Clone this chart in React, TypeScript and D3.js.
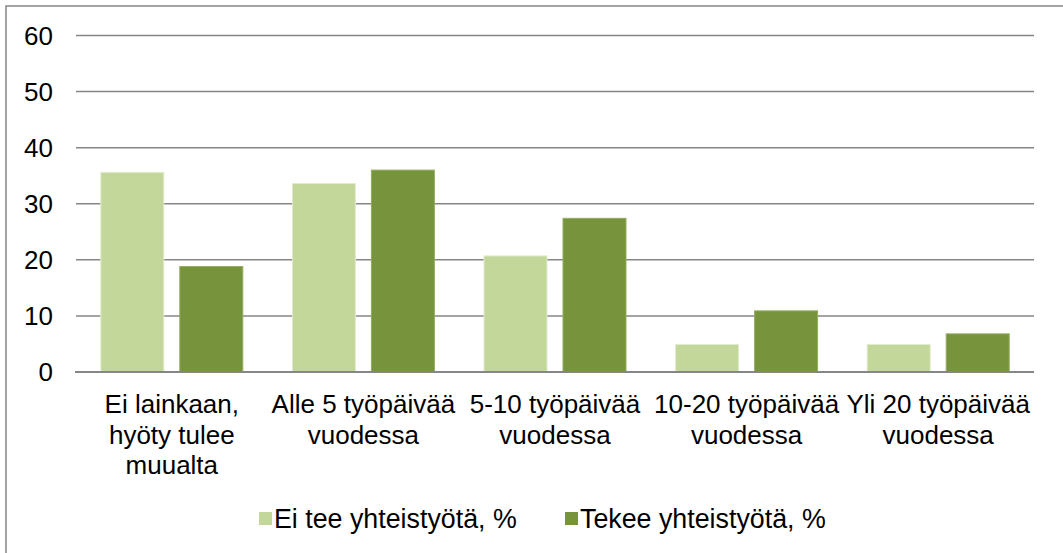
import React from "react";
import * as d3 from "d3";

const categories: string[][] = [
  ["Ei lainkaan,", "hyöty tulee", "muualta"],
  ["Alle 5 työpäivää", "vuodessa"],
  ["5-10 työpäivää", "vuodessa"],
  ["10-20 työpäivää", "vuodessa"],
  ["Yli 20 työpäivää", "vuodessa"],
];
const seriesNames = ["Ei tee yhteistyötä, %", "Tekee yhteistyötä, %"];
const eiTee = [35.6, 33.6, 20.7, 4.9, 4.9];
const tekee = [18.8, 36.0, 27.4, 10.9, 6.8];
const yTicks = [0, 10, 20, 30, 40, 50, 60];

const W = 1063;
const H = 553;
const FONT = "'Liberation Sans', Arial, sans-serif";
const fills = ["#c4d79b", "#77933c"];
const strokes = ["#e2ebcf", "#92ad5e"];

export default function App() {
  const catKeys = categories.map((c) => c.join(" "));
  const x = d3.scaleBand<string>().domain(catKeys).range([76, 1034]).padding(0);
  const sub = d3
    .scaleBand<string>()
    .domain(seriesNames)
    .range([0, x.bandwidth()])
    .paddingInner(0.2025)
    .paddingOuter(0.314);
  const y = d3.scaleLinear().domain([0, 60]).range([372, 35.5]);
  const values = [eiTee, tekee];

  const legendX = [259, 565];

  return (
    <svg
      width={W}
      height={H}
      style={{ position: "absolute", left: 0, top: 0, background: "#fff" }}
      fontFamily={FONT}
    >
      <rect x={6} y={6} width={W + 20} height={H + 20} fill="#fff" stroke="#868686" strokeWidth={1.5} />
      {yTicks.map((t) => (
        <g key={t}>
          <line
            x1={t === 0 ? 75 : 76}
            x2={1034}
            y1={y(t)}
            y2={y(t)}
            stroke="#868686"
            strokeWidth={t === 0 ? 2 : 1.5}
          />
          <text x={53} y={y(t)} dy="0.36em" textAnchor="end" fontSize={26} fill="#000">
            {t}
          </text>
        </g>
      ))}
      {catKeys.map((c, i) => (
        <g key={c}>
          {seriesNames.map((s, j) => (
            <rect
              key={s}
              x={(x(c) as number) + (sub(s) as number)}
              y={y(values[j][i])}
              width={sub.bandwidth()}
              height={y(0) - y(values[j][i])}
              fill={fills[j]}
              stroke={strokes[j]}
              strokeWidth={1}
            />
          ))}
        </g>
      ))}
      <line x1={75} x2={1034} y1={y(0)} y2={y(0)} stroke="#868686" strokeWidth={2} />
      {categories.map((lines, i) => (
        <text
          key={i}
          x={(x(catKeys[i]) as number) + x.bandwidth() / 2}
          y={413}
          textAnchor="middle"
          fontSize={26}
          fill="#000"
        >
          {lines.map((l, k) => (
            <tspan key={k} x={(x(catKeys[i]) as number) + x.bandwidth() / 2} dy={k === 0 ? 0 : 30.5}>
              {l}
            </tspan>
          ))}
        </text>
      ))}
      {seriesNames.map((s, j) => (
        <g key={s}>
          <rect x={legendX[j]} y={512} width={13} height={13} fill={fills[j]} />
          <text x={legendX[j] + 15} y={528} fontSize={26.8} fill="#000">
            {s}
          </text>
        </g>
      ))}
    </svg>
  );
}
